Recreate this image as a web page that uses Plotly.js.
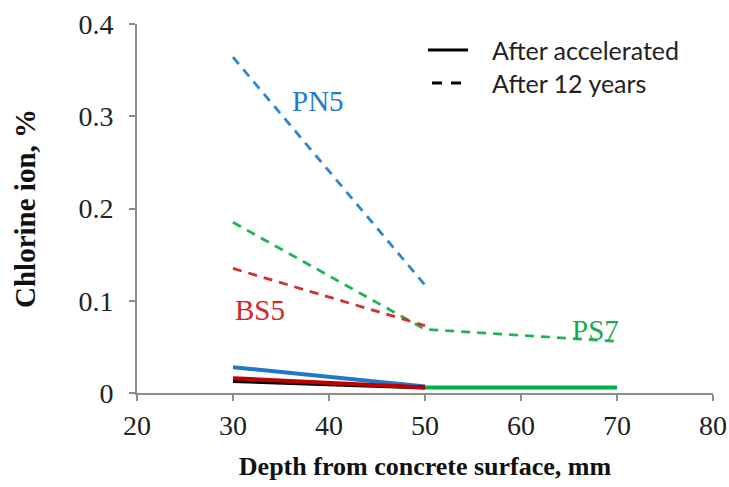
<!DOCTYPE html>
<html>
<head>
<meta charset="utf-8">
<script src="https://cdn.plot.ly/plotly-3.0.1.min.js"></script>
<style>html,body{margin:0;padding:0;background:#fff;}#chart{width:729px;height:487px;}</style>
</head>
<body>
<div id="chart"></div>
<script>
// Depth positions (mm)
const depthPN5 = [30, 50];
const depthBS5 = [30, 50];
const depthPS7_12y = [30, 50, 70];
const depthPS7_acc = [50, 70];

// After 12 years (dashed)
const pn5_12y = [0.364, 0.117];
const bs5_12y = [0.135, 0.073];
const ps7_12y = [0.185, 0.069, 0.056];

// After accelerated (solid)
const pn5_acc = [0.028, 0.007];
const bs5_acc = [0.016, 0.006];
const blk_acc = [0.013, 0.006];
const ps7_acc = [0.006, 0.006];

const legendLabels = ['After accelerated', 'After 12 years'];
const seriesLabels = ['PN5', 'BS5', 'PS7'];
const xTicks = [20, 30, 40, 50, 60, 70, 80];
const yTicks = [0, 0.1, 0.2, 0.3, 0.4];
const yTickText = ['0', '0.1', '0.2', '0.3', '0.4'];

const blue = '#2b86d3', red = '#d42f2f', green = '#1fb555';
const dash = '9px,7px';
const serif = 'Liberation Serif';

const traces = [
  {x: depthPN5, y: pn5_12y, mode: 'lines', line: {color: blue, width: 2.8, dash: dash}},
  {x: depthPS7_12y, y: ps7_12y, mode: 'lines', line: {color: green, width: 2.8, dash: dash}},
  {x: depthBS5, y: bs5_12y, mode: 'lines', line: {color: red, width: 2.8, dash: dash}},
  {x: depthPN5, y: pn5_acc, mode: 'lines', line: {color: '#1f78c8', width: 4}},
  {x: depthBS5, y: blk_acc, mode: 'lines', line: {color: '#000000', width: 4}},
  {x: depthBS5, y: bs5_acc, mode: 'lines', line: {color: '#c00000', width: 4}},
  {x: depthPS7_acc, y: ps7_acc, mode: 'lines', line: {color: '#00b050', width: 4}}
];

const layout = {
  width: 729, height: 487,
  margin: {l: 137, r: 16, t: 24, b: 94},
  paper_bgcolor: '#fff', plot_bgcolor: '#fff',
  font: {family: serif, color: '#222'},
  showlegend: false,
  xaxis: {
    range: [20, 80], tickvals: xTicks, ticks: 'outside', ticklen: 6, tickcolor: '#8c8c8c', tickwidth: 2,
    showline: true, linecolor: '#8c8c8c', linewidth: 2, showgrid: false, zeroline: false,
    tickfont: {family: serif, size: 28, color: '#222'},
    title: {text: '<b>Depth from concrete surface, mm</b>', font: {family: serif, size: 26, color: '#111'}, standoff: 17}
  },
  yaxis: {
    range: [0, 0.4], tickvals: yTicks, ticktext: yTickText, ticks: 'outside', ticklen: 6, tickcolor: '#8c8c8c', tickwidth: 2,
    ticklabelstandoff: 10,
    showline: true, linecolor: '#8c8c8c', linewidth: 2, showgrid: false, zeroline: false,
    tickfont: {family: serif, size: 28, color: '#222'},
    title: {text: '<b>Chlorine ion, %</b>', font: {family: serif, size: 29, color: '#111'}, standoff: 34}
  },
  shapes: [
    {type: 'line', xref: 'paper', yref: 'paper', x0: 0.5052, x1: 0.5747, y0: 0.9295, y1: 0.9295, line: {color: '#000', width: 2.8}},
    {type: 'line', xref: 'paper', yref: 'paper', x0: 0.5122, x1: 0.5712, y0: 0.8401, y1: 0.8401, line: {color: '#000', width: 2.8, dash: '10px,9px'}}
  ],
  annotations: [
    {x: 0.6128, y: 0.9295, xref: 'paper', yref: 'paper', xanchor: 'left', yanchor: 'middle', text: legendLabels[0], showarrow: false, font: {family: 'Lato', size: 25, color: '#222'}},
    {x: 0.6128, y: 0.8401, xref: 'paper', yref: 'paper', xanchor: 'left', yanchor: 'middle', text: legendLabels[1], showarrow: false, font: {family: 'Lato', size: 25, color: '#222'}},
    {x: 38.9, y: 0.316, xref: 'x', yref: 'y', text: seriesLabels[0], showarrow: false, font: {family: serif, size: 29, color: '#1f7ccc'}},
    {x: 32.8, y: 0.090, xref: 'x', yref: 'y', text: seriesLabels[1], showarrow: false, font: {family: serif, size: 29, color: '#cc2a2a'}},
    {x: 67.8, y: 0.068, xref: 'x', yref: 'y', text: seriesLabels[2], showarrow: false, font: {family: serif, size: 29, color: '#1aaa50'}}
  ]
};

Plotly.newPlot('chart', traces, layout, {displayModeBar: false, staticPlot: true});
</script>
</body>
</html>
